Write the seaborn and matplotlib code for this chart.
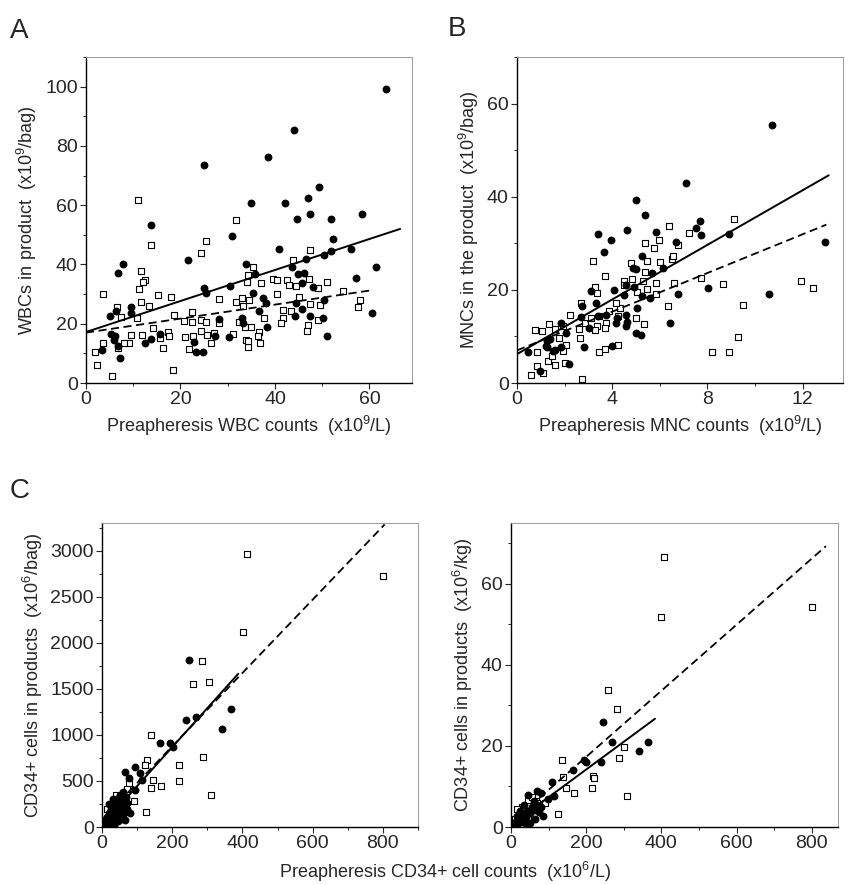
import matplotlib
matplotlib.use("Agg")
import matplotlib.pyplot as plt
from matplotlib.ticker import MultipleLocator
import seaborn as sns

# ---- panel A: WBC ----
wbc_fill_x = [24.9, 13.7, 31.0, 7.8, 6.7, 21.6, 33.8, 24.9, 25.4, 30.5, 6.3, 5.1, 9.5, 9.5, 5.3, 6.2, 6.0, 6.7,
              3.4, 7.3, 12.5, 13.7, 15.7, 22.9, 23.3, 24.8, 27.3, 28.1, 30.2, 33.1, 33.3, 35.0,
              63.6, 44.1, 38.5, 49.3, 46.9, 42.2, 47.4, 44.6, 51.8, 58.4, 52.3, 40.9, 51.8, 50.4, 56.0, 46.6,
              43.7, 61.3, 35.7, 44.9, 46.1, 57.1, 45.8, 48.1, 35.3, 37.4, 38.1, 44.5, 50.3, 36.6, 45.7, 44.3,
              47.4, 50.2, 38.4, 60.5, 51.0]
wbc_fill_y = [73.4, 53.4, 49.5, 40.3, 37.1, 41.4, 40.3, 31.9, 30.2, 32.7, 24.3, 22.6, 25.7, 23.5, 16.7, 15.8, 14.6, 12.6,
              11.1, 8.6, 13.6, 15.0, 16.7, 13.9, 10.4, 10.5, 15.8, 21.6, 15.5, 21.8, 20.1, 60.6,
              99.2, 85.4, 76.4, 66.1, 62.5, 60.7, 57.1, 55.2, 55.3, 57.1, 48.7, 45.3, 44.6, 43.1, 45.3, 42.0,
              39.2, 39.0, 36.9, 36.9, 37.1, 35.5, 33.8, 32.4, 30.2, 28.7, 27.0, 27.0, 28.1, 24.3, 25.1, 22.6,
              22.6, 22.1, 19.0, 23.7, 15.8]
wbc_open_x = [11.1, 31.7, 13.7, 25.4, 24.3, 11.6, 12.5, 12.0, 11.3, 15.2, 18.0, 3.6, 11.6, 13.3, 6.6, 7.4, 10.9,
              18.7, 22.5, 20.7, 22.4, 24.3, 25.5, 28.1, 28.2, 31.7, 33.1, 33.2, 32.3, 34.2, 34.1, 3.7, 1.8,
              9.5, 9.2, 8.0, 11.8, 14.1, 16.4, 17.4, 17.6, 15.6, 20.9, 21.9, 22.6, 24.4, 25.6, 26.4, 27.0,
              31.2, 33.9, 34.2, 33.7, 2.3, 5.6, 18.5, 36.8, 6.8,
              47.4, 43.8, 35.3, 37.0, 39.5, 40.5, 42.6, 43.0, 44.4, 47.2, 49.0, 51.1, 54.3, 58.0, 57.6, 40.5,
              45.1, 47.4, 49.5, 34.5, 41.6, 43.3, 41.6, 41.2, 37.7, 34.9, 36.6, 36.4, 34.2, 46.9, 46.7, 49.1]
wbc_open_y = [61.6, 55.1, 46.7, 47.9, 43.9, 37.8, 34.7, 34.1, 31.8, 29.7, 28.9, 29.9, 27.4, 26.0, 25.7, 22.3, 22.0,
              23.1, 24.0, 20.9, 20.6, 21.3, 20.5, 28.5, 20.1, 27.2, 28.8, 26.0, 20.6, 36.4, 34.1, 13.6, 10.3,
              16.3, 13.6, 13.6, 16.2, 18.6, 11.7, 17.2, 15.8, 15.3, 15.6, 11.6, 15.8, 17.6, 16.2, 13.4, 16.9,
              16.4, 14.5, 12.0, 18.8, 6.1, 2.5, 4.4, 13.6, 11.7,
              45.0, 41.4, 39.2, 33.8, 35.0, 34.7, 34.7, 33.0, 32.7, 35.2, 31.9, 34.0, 31.1, 27.9, 25.7, 29.9,
              29.0, 26.8, 26.2, 28.0, 24.8, 24.4, 22.1, 20.1, 22.1, 18.8, 17.3, 15.8, 14.1, 19.5, 17.6, 21.3]
wbc_solid_x = [0, 66.5]
wbc_solid_y = [17.2, 52.0]
wbc_dash_x = [0, 60.5]
wbc_dash_y = [17.0, 31.3]

# ---- panel B: MNC ----
mnc_fill_x = [5.02, 5.37, 3.41, 4.63, 5.86, 3.94, 3.66, 6.70, 5.24, 4.88, 5.0, 5.69, 6.13, 3.13, 4.08, 4.6, 4.9,
              4.5, 3.3, 2.75, 3.76, 3.41, 2.67, 1.87, 3.03, 4.21, 4.57, 4.18, 4.62, 4.57, 5.06, 5.27, 5.6,
              6.76, 6.41, 4.99, 5.22, 2.05, 2.81, 1.24, 1.39, 1.27, 1.52, 1.87, 0.47, 0.96, 2.2, 4.01, 1.6, 1.2,
              10.72, 7.11, 7.67, 7.53, 7.74, 8.93, 12.96, 8.02, 10.58]
mnc_fill_y = [39.3, 36.1, 32.0, 32.8, 32.5, 30.7, 28.2, 30.3, 27.2, 24.7, 24.4, 23.6, 24.8, 19.7, 20.0, 21.0, 20.7,
              18.8, 17.2, 16.5, 14.7, 14.4, 14.2, 12.9, 11.9, 13.9, 14.7, 12.9, 13.2, 12.2, 16.2, 18.6, 18.3,
              19.1, 12.8, 10.7, 10.2, 10.7, 7.8, 9.0, 9.4, 7.8, 6.9, 7.7, 6.7, 2.6, 4.0, 7.9, 7.0, 7.9,
              55.5, 42.9, 34.8, 33.3, 31.8, 32.1, 30.3, 20.5, 19.2]
mnc_open_x = [6.37, 5.37, 5.95, 5.74, 3.2, 4.78, 5.48, 5.99, 6.53, 3.69, 5.37, 4.5, 4.85, 5.3, 3.27, 3.37, 4.5,
              5.06, 5.47, 5.86, 5.86, 6.6, 2.71, 4.32, 4.15, 4.25, 3.85, 3.45, 3.76, 3.38, 3.13, 2.85, 3.69,
              3.27, 2.61, 2.64, 2.21, 1.94, 1.6, 1.35, 0.75, 1.07, 1.77, 2.08, 0.82, 4.99, 5.32, 6.34,
              0.86, 0.57, 1.1, 1.31, 1.45, 1.6, 2.01, 1.94, 2.74, 3.44, 3.69, 4.23, 8.19, 8.89,
              9.1, 7.23, 6.76, 6.55, 7.74, 8.65, 11.94, 12.45, 9.49, 9.28]
mnc_open_y = [33.7, 30.1, 30.7, 29.0, 26.3, 25.7, 26.2, 26.0, 26.6, 23.0, 23.9, 22.0, 22.3, 22.0, 20.6, 19.4, 21.0,
              19.6, 20.2, 21.5, 19.2, 21.5, 17.2, 16.2, 17.2, 14.4, 15.4, 14.4, 12.9, 12.2, 14.0, 12.9, 11.9,
              11.3, 11.7, 9.7, 14.6, 12.2, 11.7, 12.6, 11.3, 11.1, 9.6, 8.1, 6.7, 13.9, 12.7, 16.5,
              3.7, 1.7, 2.2, 4.7, 5.8, 3.8, 4.3, 6.9, 0.8, 6.7, 7.2, 8.1, 6.7, 6.7,
              35.3, 32.3, 29.7, 27.2, 22.6, 21.3, 22.0, 20.5, 16.7, 9.9]
mnc_solid_x = [0, 13.1]
mnc_solid_y = [6.2, 44.6]
mnc_dash_x = [0, 13.0]
mnc_dash_y = [7.0, 34.0]

# ---- panel C: CD34+ per bag ----
bag_fill_x = [249, 366, 342, 269, 239, 166, 195, 201, 94, 66, 78, 107, 113, 94, 80, 56,
              5, 8, 10, 12, 15, 18, 20, 22, 25, 28, 30, 32, 35, 38, 40, 42, 45, 48, 50, 52, 55, 58,
              60, 62, 65, 68, 70, 72, 45, 55, 35, 25, 15, 65, 30, 20]
bag_fill_y = [1815, 1283, 1065, 1199, 1160, 917, 910, 866, 656, 594, 529, 583, 511, 402, 156, 112,
              20, 45, 80, 30, 110, 60, 150, 90, 200, 130, 40, 170, 250, 110, 210, 300, 160, 260, 350, 200, 310, 240,
              380, 150, 290, 330, 200, 260, 60, 90, 20, 10, 15, 80, 300, 250]
bag_open_x = [402, 413, 800, 285, 304, 259, 140, 288, 129, 123, 218, 218, 145, 140, 168, 311, 125, 92, 78,
              20, 35, 50, 60, 10, 40, 70, 55, 30, 15]
bag_open_y = [2116, 2967, 2721, 1797, 1579, 1551, 1000, 764, 728, 674, 674, 500, 511, 427, 449, 348, 160, 283, 475,
              120, 180, 230, 320, 50, 350, 410, 140, 260, 200]
bag_solid_x = [0, 388]
bag_solid_y = [20, 1663]
bag_dash_x = [0, 805]
bag_dash_y = [80, 3284]

# ---- panel C: CD34+ per kg ----
kg_fill_x = [244, 268, 364, 341, 239, 195, 200, 164, 108, 115, 86, 68, 80, 46, 98,
             5, 10, 15, 20, 25, 30, 35, 40, 45, 50, 55, 60, 65, 70, 75, 50, 35, 25, 60, 40, 80, 15]
kg_fill_y = [26.0, 21.0, 21.0, 18.7, 16.1, 16.5, 16.1, 14.0, 11.1, 7.6, 2.7, 8.9, 8.5, 8.0, 7.0,
             0.3, 1.0, 0.6, 1.5, 2.2, 1.2, 3.0, 2.5, 4.0, 3.5, 5.0, 4.2, 2.0, 5.5, 3.8, 1.0, 5.5, 4.0, 6.5, 0.8, 5.0, 2.8]
kg_open_x = [398, 408, 800, 257, 281, 137, 301, 288, 217, 222, 215, 168, 309, 126, 139, 146, 44, 66,
             10, 20, 30, 55, 45, 70, 15, 90]
kg_open_y = [51.8, 66.6, 54.3, 33.7, 29.2, 16.5, 19.7, 17.0, 12.5, 12.0, 9.5, 8.5, 7.6, 3.2, 12.3, 9.5, 6.7, 6.5,
             2.0, 3.5, 5.0, 7.5, 2.0, 6.0, 4.5, 6.0]
kg_solid_x = [0, 383]
kg_solid_y = [0.5, 26.7]
kg_dash_x = [0, 838]
kg_dash_y = [1.0, 69.3]

sns.set_style("ticks")
plt.rcParams['font.family'] = ['Liberation Sans', 'DejaVu Sans']
plt.rcParams['mathtext.fontset'] = 'custom'
plt.rcParams['mathtext.rm'] = 'Liberation Sans'

W, H = 850, 885
fig = plt.figure(figsize=(W / 100, H / 100), dpi=100)


def box(l, r, t, b):
    return [l / W, 1 - b / H, (r - l) / W, (b - t) / H]


def draw(ax, fx, fy, ox, oy, sx, sy, dx, dy):
    sns.scatterplot(x=ox, y=oy, marker='s', s=20, color='white', edgecolor='black',
                    linewidth=0.8, ax=ax, zorder=3)
    sns.scatterplot(x=fx, y=fy, marker='o', s=32, color='black', edgecolor='black',
                    linewidth=0, ax=ax, zorder=4)
    sns.lineplot(x=sx, y=sy, color='black', lw=1.4, ax=ax, zorder=5)
    sns.lineplot(x=dx, y=dy, color='black', lw=1.3, ax=ax, zorder=5, dashes=False,
                 linestyle=(0, (4.5, 2.5)))
    for s in ['left', 'bottom']:
        ax.spines[s].set_color('black')
        ax.spines[s].set_linewidth(1.0)
    for s in ['top', 'right']:
        ax.spines[s].set_color('#999999')
        ax.spines[s].set_linewidth(0.7)
    ax.tick_params(which='major', direction='out', length=4, width=0.8, labelsize=14, pad=2)
    ax.tick_params(which='minor', direction='out', length=2.5, width=0.7)


axA = fig.add_axes(box(86, 412, 57, 383))
draw(axA, wbc_fill_x, wbc_fill_y, wbc_open_x, wbc_open_y, wbc_solid_x, wbc_solid_y, wbc_dash_x, wbc_dash_y)
axA.set_xlim(0, 69)
axA.set_ylim(0, 110)
axA.xaxis.set_major_locator(MultipleLocator(20))
axA.xaxis.set_minor_locator(MultipleLocator(10))
axA.yaxis.set_major_locator(MultipleLocator(20))
axA.yaxis.set_minor_locator(MultipleLocator(10))
axA.set_xlabel(r'Preapheresis WBC counts  (x10$^{9}$/L)', fontsize=13)
axA.set_ylabel(r'WBCs in product  (x10$^{9}$/bag)', fontsize=13)

axB = fig.add_axes(box(517, 843, 57, 383))
draw(axB, mnc_fill_x, mnc_fill_y, mnc_open_x, mnc_open_y, mnc_solid_x, mnc_solid_y, mnc_dash_x, mnc_dash_y)
axB.set_xlim(0, 13.7)
axB.set_ylim(0, 70)
axB.xaxis.set_major_locator(MultipleLocator(4))
axB.xaxis.set_minor_locator(MultipleLocator(2))
axB.yaxis.set_major_locator(MultipleLocator(20))
axB.yaxis.set_minor_locator(MultipleLocator(10))
axB.set_xlabel(r'Preapheresis MNC counts  (x10$^{9}$/L)', fontsize=13)
axB.set_ylabel(r'MNCs in the product  (x10$^{9}$/bag)', fontsize=13)

axC1 = fig.add_axes(box(102, 418, 523, 827))
draw(axC1, bag_fill_x, bag_fill_y, bag_open_x, bag_open_y, bag_solid_x, bag_solid_y, bag_dash_x, bag_dash_y)
axC1.set_xlim(0, 900)
axC1.set_ylim(0, 3300)
axC1.xaxis.set_major_locator(MultipleLocator(200))
axC1.xaxis.set_minor_locator(MultipleLocator(100))
axC1.yaxis.set_major_locator(MultipleLocator(500))
axC1.yaxis.set_minor_locator(MultipleLocator(250))
axC1.set_ylabel(r'CD34+ cells in products  (x10$^{6}$/bag)', fontsize=13)

axC2 = fig.add_axes(box(511, 838, 523, 827))
draw(axC2, kg_fill_x, kg_fill_y, kg_open_x, kg_open_y, kg_solid_x, kg_solid_y, kg_dash_x, kg_dash_y)
axC2.set_xlim(0, 870)
axC2.set_ylim(0, 75)
axC2.xaxis.set_major_locator(MultipleLocator(200))
axC2.xaxis.set_minor_locator(MultipleLocator(100))
axC2.yaxis.set_major_locator(MultipleLocator(20))
axC2.yaxis.set_minor_locator(MultipleLocator(10))
axC2.set_ylabel(r'CD34+ cells in products  (x10$^{6}$/kg)', fontsize=13)

fig.text(445 / W, 1 - 872 / H, r'Preapheresis CD34+ cell counts  (x10$^{6}$/L)', fontsize=13,
         ha='center', va='center')
fig.text(10 / W, 1 - 38 / H, 'A', fontsize=20)
fig.text(448 / W, 1 - 36 / H, 'B', fontsize=20)
fig.text(10 / W, 1 - 498 / H, 'C', fontsize=20)

fig.savefig('out.png', dpi=100)
